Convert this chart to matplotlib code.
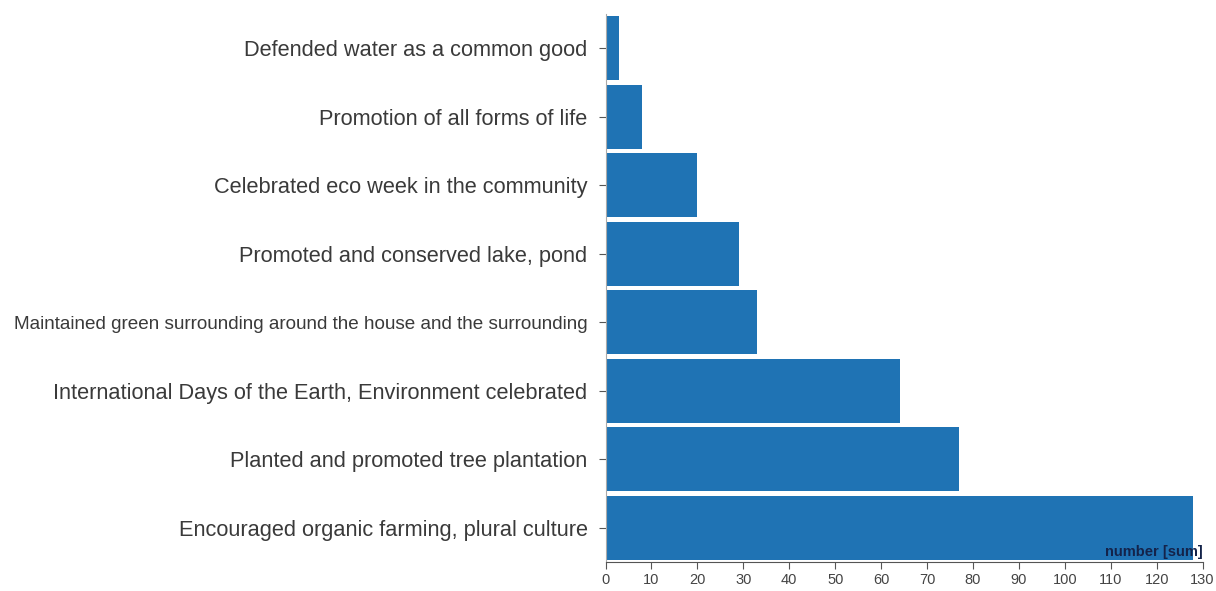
import matplotlib.pyplot as plt

# categories from top to bottom
labels = [
    "Defended water as a common good",
    "Promotion of all forms of life",
    "Celebrated eco week in the community",
    "Promoted and conserved lake, pond",
    "Maintained green surrounding around the house and the surrounding",
    "International Days of the Earth, Environment celebrated",
    "Planted and promoted tree plantation",
    "Encouraged organic farming, plural culture",
]
values = [3, 8, 20, 29, 33, 64, 77, 128]
xticks = list(range(0, 131, 10))

plt.rcParams["font.family"] = ["Liberation Sans", "DejaVu Sans"]

fig = plt.figure(figsize=(12.16, 5.91), dpi=100)
ax = fig.add_axes([0.498, 0.049, 0.491, 0.927])

pos = list(range(len(labels)))
ax.barh(pos, values, height=0.935, color="#1f73b4")
ax.set_ylim(len(labels) - 0.5, -0.5)
ax.set_xlim(0, 130)

ax.set_yticks(pos)
ax.set_yticklabels(labels, fontsize=15.7, color="#3a3a3a")
for t in ax.get_yticklabels():
    if t.get_text().startswith("Maintained"):
        t.set_fontsize(13.6)
ax.tick_params(axis="y", length=5, width=0.8, color="#555555", pad=8)

ax.set_xticks(xticks)
ax.set_xticklabels([str(v) for v in xticks], fontsize=10.5, color="#444444")
ax.tick_params(axis="x", length=5, width=0.8, color="#555555", pad=3)

for s in ["top", "right"]:
    ax.spines[s].set_visible(False)
ax.spines["left"].set_color("#aaaaaa")
ax.spines["left"].set_linewidth(0.8)
ax.spines["bottom"].set_color("#555555")
ax.spines["bottom"].set_linewidth(0.8)

ax.text(1.0, 0.006, "number [sum]", transform=ax.transAxes, ha="right", va="bottom",
        fontsize=10.5, fontweight="bold", color="#14234a")

fig.savefig("out.png", dpi=100)
